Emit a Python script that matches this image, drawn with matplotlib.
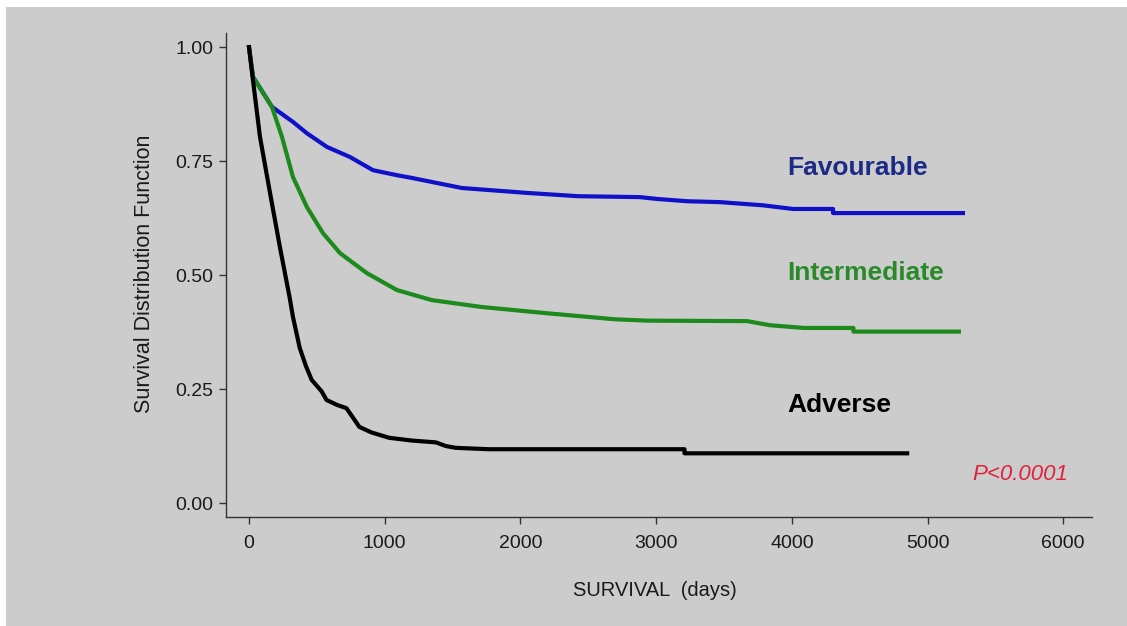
import matplotlib
matplotlib.use("Agg")
import matplotlib.pyplot as plt
from matplotlib.patches import Rectangle

plt.rcParams['font.family'] = ['Liberation Sans', 'DejaVu Sans']

# ---- data ----
adverse_days = [0, 29, 81, 155, 228, 300, 324, 374, 420, 462, 535, 571,
                650, 718, 760, 813, 900, 1033, 1200, 1377, 1450, 1524, 1766, 3209,
                3209, 4850]
adverse_surv = [1.0, 0.928, 0.803, 0.680, 0.561, 0.45, 0.408, 0.34, 0.30,
                0.27, 0.245, 0.226, 0.215, 0.208, 0.19, 0.167, 0.155, 0.143, 0.137,
                0.133, 0.125, 0.121, 0.118, 0.118, 0.109, 0.109]

inter_days = [0, 29, 44, 169, 243, 324, 427, 545, 671, 870, 1091, 1348, 1714,
              2205, 2696, 2938, 3670, 3839, 4088, 4454, 4454, 5231]
inter_surv = [1.0, 0.935, 0.928, 0.869, 0.803, 0.715, 0.649, 0.592, 0.548, 0.504,
              0.467, 0.445, 0.430, 0.416, 0.403, 0.400, 0.399, 0.390, 0.384,
              0.384, 0.376, 0.376]

fav_days = [0, 29, 44, 169, 324, 427, 575, 744, 914, 1091, 1201, 1568, 2059,
            2425, 2880, 3006, 3227, 3470, 3788, 4009, 4304, 4304, 5261]
fav_surv = [1.0, 0.935, 0.928, 0.869, 0.836, 0.811, 0.781, 0.759, 0.730, 0.719,
            0.713, 0.691, 0.680, 0.673, 0.671, 0.667, 0.662, 0.660, 0.653, 0.645,
            0.645, 0.636, 0.636]

x_ticks = [0, 1000, 2000, 3000, 4000, 5000, 6000]
y_ticks = [0.0, 0.25, 0.50, 0.75, 1.00]
y_ticklabels = ['0.00', '0.25', '0.50', '0.75', '1.00']

group_labels = ['Favourable', 'Intermediate', 'Adverse']
label_x = [3970, 3970, 3970]
label_y = [0.735, 0.504, 0.215]
line_colors = ['#1010c8', '#1c8a1c', '#000000']
text_colors = ['#1c2a88', '#2a8a2a', '#000000']
p_text = 'P<0.0001'

# ---- figure ----
fig = plt.figure(figsize=(11.27, 6.26), dpi=100)
fig.patch.set_facecolor('white')
fig.patches.append(Rectangle((6 / 1127, 0), 1 - 6 / 1127, 1 - 7 / 626,
                             transform=fig.transFigure, facecolor='#cccccc',
                             edgecolor='none', zorder=-10))

ax = fig.add_axes([226 / 1127, 1 - 517 / 626, 866 / 1127, 484 / 626])
ax.patch.set_alpha(0)
ax.set_xlim(-169.5, 6212)
ax.set_ylim(-0.0307, 1.031)

ax.plot(fav_days, fav_surv, color=line_colors[0], lw=3.0, zorder=3)
ax.plot(inter_days, inter_surv, color=line_colors[1], lw=3.0, zorder=4)
ax.plot(adverse_days, adverse_surv, color=line_colors[2], lw=3.0, zorder=5)

for spine in ['top', 'right']:
    ax.spines[spine].set_visible(False)
for spine in ['left', 'bottom']:
    ax.spines[spine].set_color('#333333')
    ax.spines[spine].set_linewidth(1.0)

ax.set_xticks(x_ticks)
ax.set_xticklabels([str(v) for v in x_ticks])
ax.set_yticks(y_ticks)
ax.set_yticklabels(y_ticklabels)
ax.tick_params(direction='out', length=5, width=1, color='#333333',
               labelsize=14, labelcolor='#1a1a1a', pad=8)
ax.tick_params(axis='y', pad=4)

fig.text(655 / 1127, 1 - 591 / 626, 'SURVIVAL  (days)', ha='center', va='center',
         fontsize=14.5, color='#1a1a1a')
fig.text(145 / 1127, 1 - 274 / 626, 'Survival Distribution Function', ha='center',
         va='center', rotation=90, fontsize=15.5, color='#1a1a1a')

for lab, lx, ly, c in zip(group_labels, label_x, label_y, text_colors):
    ax.text(lx, ly, lab, ha='left', va='center', fontsize=19, fontweight='bold',
            color=c)

ax.text(5328, 0.063, p_text, ha='left', va='center', fontsize=16,
        fontstyle='italic', color='#e0203c')

fig.savefig('out.png', dpi=100, facecolor=fig.get_facecolor())
